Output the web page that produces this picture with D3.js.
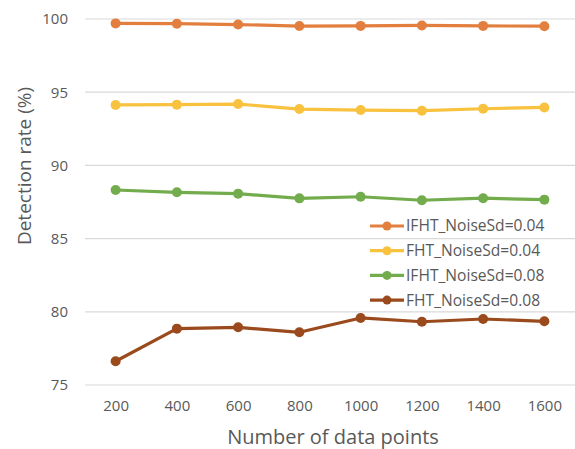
<!DOCTYPE html>
<head>
  <style>
    body { margin: 0; background: #fff; }
    text { font-family: "Open Sans", sans-serif; fill: #595959; }
  </style>
</head>
<title>Detection rate vs number of data points</title>
<body>
<script src="https://cdn.jsdelivr.net/npm/d3@7"></script>
<script>

  var points = ["200", "400", "600", "800", "1000", "1200", "1400", "1600"];
  var yTicks = [75, 80, 85, 90, 95, 100];
  var seriesNames = ["IFHT_NoiseSd=0.04", "FHT_NoiseSd=0.04", "IFHT_NoiseSd=0.08", "FHT_NoiseSd=0.08"];
  var ifht004 = [99.70, 99.68, 99.62, 99.52, 99.53, 99.56, 99.53, 99.51];
  var fht004  = [94.13, 94.15, 94.19, 93.85, 93.78, 93.74, 93.87, 93.96];
  var ifht008 = [88.32, 88.16, 88.07, 87.75, 87.86, 87.62, 87.76, 87.66];
  var fht008  = [76.62, 78.85, 78.94, 78.60, 79.58, 79.32, 79.51, 79.35];
  var colors = ["#E37F3E", "#F8C23F", "#72AC4C", "#9A4A1C"];

  var series = [ifht004, fht004, ifht008, fht008];

  var W = 575, H = 449;
  var m = {t: 19, r: 0, b: 64, l: 85};
  var w = W - m.l - m.r;
  var h = H - m.t - m.b;

  var x = d3.scalePoint().domain(points).range([0, w]).padding(0.5);
  var y = d3.scaleLinear().domain([75, 100]).range([h, 0]);

  var svg = d3.select("body").append("svg")
      .attr("width", W)
      .attr("height", H)
    .append("g")
      .attr("transform", "translate(" + m.l + "," + m.t + ")");

  // gridlines
  svg.append("g")
      .selectAll("line")
      .data(yTicks)
    .enter().append("line")
      .attr("x1", 0)
      .attr("x2", w)
      .attr("y1", function(d) { return y(d); })
      .attr("y2", function(d) { return y(d); })
      .attr("stroke", "#d9d9d9")
      .attr("stroke-width", 1.2);

  // y axis labels
  var yAxis = d3.axisLeft(y).tickValues(yTicks).tickSize(0).tickPadding(17);
  var yg = svg.append("g").call(yAxis);
  yg.select(".domain").remove();
  yg.selectAll("text").style("font-size", "15px").style("fill", "#595959")
      .style("font-family", "'Open Sans', sans-serif");

  // x axis labels
  var xAxis = d3.axisBottom(x).tickSize(0).tickPadding(15);
  var xg = svg.append("g").attr("transform", "translate(0," + h + ")").call(xAxis);
  xg.select(".domain").remove();
  xg.selectAll("text").style("font-size", "15px").style("fill", "#595959")
      .style("font-family", "'Open Sans', sans-serif");

  var line = d3.line()
      .x(function(d, i) { return x(points[i]); })
      .y(function(d) { return y(d); });

  series.forEach(function(s, k) {
    svg.append("path")
        .datum(s)
        .attr("d", line)
        .attr("fill", "none")
        .attr("stroke", colors[k])
        .attr("stroke-width", 3.2)
        .attr("stroke-linejoin", "round");

    svg.append("g")
        .selectAll("circle")
        .data(s)
      .enter().append("circle")
        .attr("cx", function(d, i) { return x(points[i]); })
        .attr("cy", function(d) { return y(d); })
        .attr("r", 5)
        .attr("fill", colors[k]);
  });

  // legend
  var lg = svg.append("g").attr("transform", "translate(" + (370 - m.l) + "," + (226 - m.t) + ")");
  seriesNames.forEach(function(n, k) {
    var row = lg.append("g").attr("transform", "translate(0," + (k * 24.7) + ")");
    row.append("line")
        .attr("x1", 0).attr("x2", 34)
        .attr("stroke", colors[k]).attr("stroke-width", 3.2);
    row.append("circle").attr("cx", 17).attr("r", 4.5).attr("fill", colors[k]);
    row.append("text")
        .attr("x", 36)
        .attr("dy", "0.35em")
        .style("font-size", "15.6px")
        .text(n);
  });

  // axis titles
  svg.append("text")
      .attr("transform", "rotate(-90)")
      .attr("x", 166 - m.t)
      .attr("x", -(166 - m.t))
      .attr("y", 24 - m.l)
      .attr("dy", "0.35em")
      .style("text-anchor", "middle")
      .style("font-size", "19px")
      .text("Detection rate (%)");

  svg.append("text")
      .attr("x", 333 - m.l)
      .attr("y", 444 - m.t)
      .style("text-anchor", "middle")
      .style("font-size", "20px")
      .text("Number of data points");

</script>
</body>
